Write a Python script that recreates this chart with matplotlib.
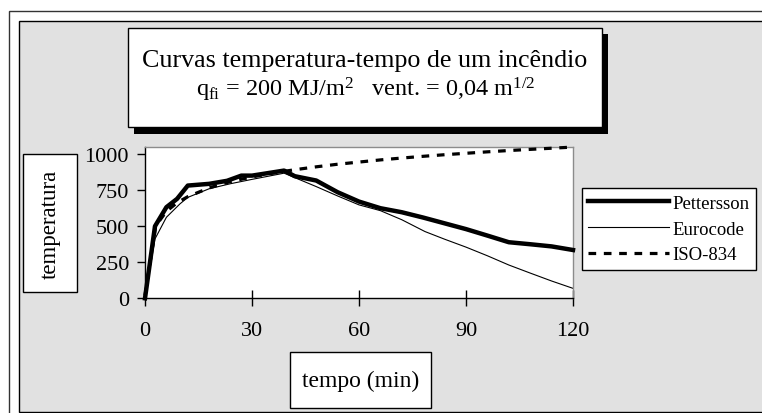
import matplotlib
matplotlib.use("Agg")
import matplotlib.pyplot as plt
from matplotlib.patches import Rectangle

# ---- data ----
pet_t = [0, 2.8, 6, 9, 12, 18, 23, 27, 30, 39, 42, 48, 54, 60, 66, 72, 78, 84, 90, 96, 102, 108, 114, 120]
pet_T = [0, 500, 632, 690, 782, 794, 815, 851, 851, 886, 847, 817, 736, 671, 625, 597, 560, 520, 480, 435, 389, 375, 360, 335]

euro_t = [0, 2.8, 6, 9.8, 12, 18, 24, 30, 39, 48, 54, 60, 66, 72, 78.5, 84, 90, 96, 102, 108, 114, 120]
euro_T = [0, 412, 562, 655, 700, 760, 795, 825, 868, 775, 710, 648, 608, 545, 463, 410, 355, 295, 231, 175, 120, 69]

iso_t = [0, 3, 6, 9, 12, 18, 24, 30, 36, 42, 48, 54, 60, 66, 72, 78, 84, 90, 96, 102, 108, 114, 120]
iso_T = [20, 502, 603, 663, 705, 766, 810, 842, 869, 892, 912, 930, 945, 960, 973, 985, 996, 1006, 1016, 1025, 1033, 1041, 1049]

series_names = ["Pettersson", "Eurocode", "ISO-834"]
x_ticks = [0, 30, 60, 90, 120]
y_ticks = [0, 250, 500, 750, 1000]
title_line1 = "Curvas temperatura-tempo de um incêndio"
title_line2 = r"q$_{\mathrm{fi}}$ = 200 MJ/m$^{2}$   vent. = 0,04 m$^{1/2}$"
x_label = "tempo (min)"
y_label = "temperatura"

# ---- style ----
plt.rcParams["font.family"] = ["Liberation Serif", "DejaVu Serif"]
plt.rcParams["mathtext.fontset"] = "custom"
plt.rcParams["mathtext.rm"] = "Liberation Serif"
plt.rcParams["mathtext.it"] = "Liberation Serif:italic"
plt.rcParams["mathtext.bf"] = "Liberation Serif:bold"

W, H = 762, 414
fig = plt.figure(figsize=(W / 100, H / 100), dpi=100)
fig.patch.set_facecolor("white")


def fx(x):
    return x / W


def fy(y):
    return 1 - y / H


def rect(x0, y0, x1, y1, **kw):
    r = Rectangle((fx(x0), fy(y1)), fx(x1) - fx(x0), fy(y0) - fy(y1),
                  transform=fig.transFigure, **kw)
    fig.add_artist(r)
    return r


# outer frames
rect(9, 12, 790, 440, facecolor="white", edgecolor="#333333", linewidth=1.0, zorder=-3)
rect(19, 22, 780, 413, facecolor="#e1e1e1", edgecolor="black", linewidth=1.0, zorder=-2)

# title box with shadow
rect(134, 35, 608, 135, facecolor="black", edgecolor="black", linewidth=0, zorder=2)
rect(127.7, 29.3, 601.7, 128.3, facecolor="white", edgecolor="black", linewidth=1.0, zorder=3)
fig.text(fx(364.7), fy(67), title_line1, ha="center", va="baseline", fontsize=18.7, zorder=4)
fig.text(fx(366), fy(97), title_line2, ha="center", va="baseline", fontsize=17.5, zorder=4)

# axis label boxes
rect(23.3, 155, 77.3, 293.3, facecolor="white", edgecolor="black", linewidth=1.0, zorder=2)
fig.text(fx(50.3), fy(224), y_label, rotation=90, ha="center", va="center", fontsize=16.5, zorder=3)
rect(290, 353, 431, 409, facecolor="white", edgecolor="black", linewidth=1.0, zorder=2)
fig.text(fx(360.5), fy(381), x_label, ha="center", va="center", fontsize=17, zorder=3)

# ---- axes ----
ax = fig.add_axes([fx(145), fy(299.3), fx(573) - fx(145), fy(147.5) - fy(299.3)])
ax.set_facecolor("white")
ax.set_xlim(0, 120)
ax.set_ylim(0, 1053)
ax.set_xticks(x_ticks)
ax.set_yticks(y_ticks)
ax.set_xticklabels([str(v) for v in x_ticks])
ax.set_yticklabels([str(v) for v in y_ticks])
ax.tick_params(axis="x", direction="inout", length=12, width=1, pad=10, labelsize=16, colors="black")
ax.tick_params(axis="y", direction="out", length=6, width=1, pad=5.5, labelsize=16, colors="black")
for s in ("left", "bottom"):
    ax.spines[s].set_color("black")
    ax.spines[s].set_linewidth(1.0)
for s in ("top", "right"):
    ax.spines[s].set_color("#8c8c8c")
    ax.spines[s].set_linewidth(1.0)

l1, = ax.plot(pet_t, pet_T, color="black", linewidth=3.2, solid_joinstyle="round", label=series_names[0], zorder=3)
l2, = ax.plot(euro_t, euro_T, color="black", linewidth=0.8, label=series_names[1], zorder=2)
l3, = ax.plot(iso_t, iso_T, color="black", linewidth=2.3, linestyle=(0, (2.4, 2.4)), label=series_names[2], zorder=4)
for l in (l1, l2, l3):
    l.set_clip_on(False)

leg = ax.legend(loc="upper left", bbox_to_anchor=(fx(581.7), fy(189.3)), bbox_transform=fig.transFigure,
                borderaxespad=0, frameon=True, fancybox=False, edgecolor="black", framealpha=1,
                fontsize=13.5, handlelength=4.3, handletextpad=0.2, borderpad=0.35, labelspacing=0.45)
leg.get_frame().set_linewidth(1.0)

fig.savefig("out.png", dpi=100, facecolor=fig.get_facecolor())
